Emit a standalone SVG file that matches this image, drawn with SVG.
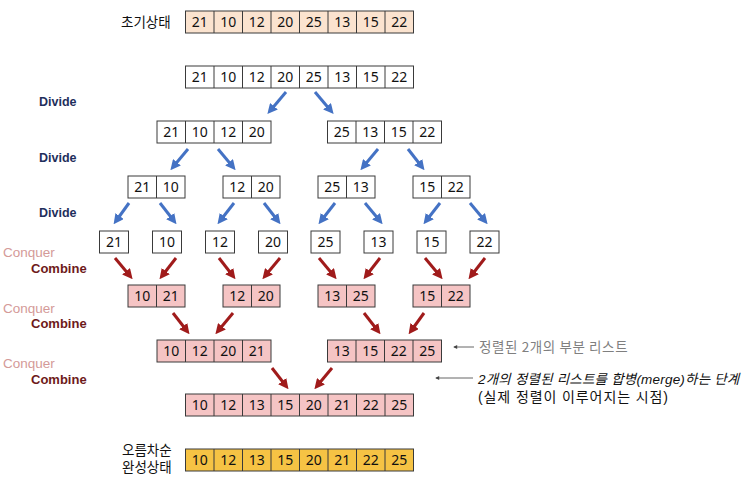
<svg xmlns="http://www.w3.org/2000/svg" width="750" height="498" viewBox="0 0 750 498">
<defs>
<style>
.c{stroke:#3a3a3a;stroke-width:1}
.w{fill:#ffffff}
.p{fill:#F5C4C4}
.o{fill:#FBE3CF}
.y{fill:#F6C344}
.n{font-family:"Noto Sans","Liberation Sans",sans-serif;font-size:14px;fill:#111;text-anchor:middle}
.k{font-family:"Noto Sans CJK KR","Noto Sans",sans-serif;font-size:13.5px;fill:#111}
.k2{font-family:"Liberation Sans","Noto Sans CJK KR",sans-serif;font-size:13.5px;fill:#111}
.dv{font-family:"Liberation Sans",Arial,sans-serif;font-size:12.5px;font-weight:bold;fill:#1F2F5C}
.cq{font-family:"Liberation Sans",Arial,sans-serif;font-size:13.5px;fill:#D49A98}
.cb{font-family:"Liberation Sans",Arial,sans-serif;font-size:13px;font-weight:bold;fill:#6E1A1A}
.ba{stroke:#4472C4;stroke-width:3;fill:none;marker-end:url(#mb)}
.ra{stroke:#A01B1B;stroke-width:3;fill:none;marker-end:url(#mr)}
.ga{stroke:#666;stroke-width:1;fill:none;marker-end:url(#mg)}
</style>
<marker id="mb" viewBox="0 0 10 10" refX="6" refY="5" markerWidth="3.4" markerHeight="3.4" orient="auto"><path d="M0,0L10,5L0,10z" fill="#4472C4"/></marker>
<marker id="mr" viewBox="0 0 10 10" refX="6" refY="5" markerWidth="3.4" markerHeight="3.4" orient="auto"><path d="M0,0L10,5L0,10z" fill="#A01B1B"/></marker>
<marker id="mg" viewBox="0 0 10 10" refX="8" refY="5" markerWidth="5" markerHeight="4" orient="auto"><path d="M0,0L10,5L0,10z" fill="#444"/></marker>
</defs>
<rect width="750" height="498" fill="#ffffff"/>

<g id="labels">
<text class="k" x="121" y="27">초기상태</text>
<text class="k2" x="122" y="455">오름차순</text>
<text class="k2" x="122" y="472">완성상태</text>
<text class="dv" x="39" y="106">Divide</text>
<text class="dv" x="39" y="162">Divide</text>
<text class="dv" x="39" y="217">Divide</text>
<text class="cq" x="3" y="257">Conquer</text>
<text class="cb" x="31" y="273">Combine</text>
<text class="cq" x="3" y="313">Conquer</text>
<text class="cb" x="31" y="328">Combine</text>
<text class="cq" x="3" y="368">Conquer</text>
<text class="cb" x="31" y="384">Combine</text>
</g>

<g id="initial">
<rect class="c o" x="185.5" y="11" width="228" height="22"/>
<path class="c" d="M214,11v22M242.5,11v22M271,11v22M299.5,11v22M328,11v22M356.5,11v22M385,11v22"/>
<text class="n" y="27"><tspan x="199.75">21</tspan><tspan x="228.25">10</tspan><tspan x="256.75">12</tspan><tspan x="285.25">20</tspan><tspan x="313.75">25</tspan><tspan x="342.25">13</tspan><tspan x="370.75">15</tspan><tspan x="399.25">22</tspan></text>
</g>

<g id="list8">
<rect class="c w" x="185.5" y="66" width="228" height="22"/>
<path class="c" d="M214,66v22M242.5,66v22M271,66v22M299.5,66v22M328,66v22M356.5,66v22M385,66v22"/>
<text class="n" y="82"><tspan x="199.75">21</tspan><tspan x="228.25">10</tspan><tspan x="256.75">12</tspan><tspan x="285.25">20</tspan><tspan x="313.75">25</tspan><tspan x="342.25">13</tspan><tspan x="370.75">15</tspan><tspan x="399.25">22</tspan></text>
</g>

<g id="list4a">
<rect class="c w" x="157" y="121" width="114" height="22"/>
<path class="c" d="M185.5,121v22M214,121v22M242.5,121v22"/>
<text class="n" y="137"><tspan x="171.25">21</tspan><tspan x="199.75">10</tspan><tspan x="228.25">12</tspan><tspan x="256.75">20</tspan></text>
</g>
<g id="list4b">
<rect class="c w" x="327.5" y="121" width="114" height="22"/>
<path class="c" d="M356,121v22M384.5,121v22M413,121v22"/>
<text class="n" y="137"><tspan x="341.75">25</tspan><tspan x="370.25">13</tspan><tspan x="398.75">15</tspan><tspan x="427.25">22</tspan></text>
</g>

<g id="pair1"><rect class="c w" x="128" y="176" width="57" height="22"/><path class="c" d="M156.5,176v22"/><text class="n" y="192"><tspan x="142.25">21</tspan><tspan x="170.75">10</tspan></text></g>
<g id="pair2"><rect class="c w" x="223" y="176" width="57" height="22"/><path class="c" d="M251.5,176v22"/><text class="n" y="192"><tspan x="237.25">12</tspan><tspan x="265.75">20</tspan></text></g>
<g id="pair3"><rect class="c w" x="318" y="176" width="57" height="22"/><path class="c" d="M346.5,176v22"/><text class="n" y="192"><tspan x="332.25">25</tspan><tspan x="360.75">13</tspan></text></g>
<g id="pair4"><rect class="c w" x="413" y="176" width="57" height="22"/><path class="c" d="M441.5,176v22"/><text class="n" y="192"><tspan x="427.25">15</tspan><tspan x="455.75">22</tspan></text></g>

<g id="s1"><rect class="c w" x="99.5" y="231" width="29" height="22"/><text class="n" x="114" y="247">21</text></g>
<g id="s2"><rect class="c w" x="152.5" y="231" width="29" height="22"/><text class="n" x="167" y="247">10</text></g>
<g id="s3"><rect class="c w" x="205.5" y="231" width="29" height="22"/><text class="n" x="220" y="247">12</text></g>
<g id="s4"><rect class="c w" x="258.5" y="231" width="29" height="22"/><text class="n" x="273" y="247">20</text></g>
<g id="s5"><rect class="c w" x="311" y="231" width="29" height="22"/><text class="n" x="325.5" y="247">25</text></g>
<g id="s6"><rect class="c w" x="364" y="231" width="29" height="22"/><text class="n" x="378.5" y="247">13</text></g>
<g id="s7"><rect class="c w" x="417" y="231" width="29" height="22"/><text class="n" x="431.5" y="247">15</text></g>
<g id="s8"><rect class="c w" x="470" y="231" width="29" height="22"/><text class="n" x="484.5" y="247">22</text></g>

<g id="m1"><rect class="c p" x="128" y="285" width="57" height="22"/><path class="c" d="M156.5,285v22"/><text class="n" y="301"><tspan x="142.25">10</tspan><tspan x="170.75">21</tspan></text></g>
<g id="m2"><rect class="c p" x="223" y="285" width="57" height="22"/><path class="c" d="M251.5,285v22"/><text class="n" y="301"><tspan x="237.25">12</tspan><tspan x="265.75">20</tspan></text></g>
<g id="m3"><rect class="c p" x="318" y="285" width="57" height="22"/><path class="c" d="M346.5,285v22"/><text class="n" y="301"><tspan x="332.25">13</tspan><tspan x="360.75">25</tspan></text></g>
<g id="m4"><rect class="c p" x="413" y="285" width="57" height="22"/><path class="c" d="M441.5,285v22"/><text class="n" y="301"><tspan x="427.25">15</tspan><tspan x="455.75">22</tspan></text></g>

<g id="m4a">
<rect class="c p" x="157" y="340" width="114" height="22"/>
<path class="c" d="M185.5,340v22M214,340v22M242.5,340v22"/>
<text class="n" y="356"><tspan x="171.25">10</tspan><tspan x="199.75">12</tspan><tspan x="228.25">20</tspan><tspan x="256.75">21</tspan></text>
</g>
<g id="m4b">
<rect class="c p" x="327.5" y="340" width="114" height="22"/>
<path class="c" d="M356,340v22M384.5,340v22M413,340v22"/>
<text class="n" y="356"><tspan x="341.75">13</tspan><tspan x="370.25">15</tspan><tspan x="398.75">22</tspan><tspan x="427.25">25</tspan></text>
</g>

<g id="merged">
<rect class="c p" x="185.5" y="394" width="228" height="22"/>
<path class="c" d="M214,394v22M242.5,394v22M271,394v22M299.5,394v22M328,394v22M356.5,394v22M385,394v22"/>
<text class="n" y="410"><tspan x="199.75">10</tspan><tspan x="228.25">12</tspan><tspan x="256.75">13</tspan><tspan x="285.25">15</tspan><tspan x="313.75">20</tspan><tspan x="342.25">21</tspan><tspan x="370.75">22</tspan><tspan x="399.25">25</tspan></text>
</g>

<g id="sorted">
<rect class="c y" x="185.5" y="449" width="228" height="22"/>
<path class="c" d="M214,449v22M242.5,449v22M271,449v22M299.5,449v22M328,449v22M356.5,449v22M385,449v22"/>
<text class="n" y="465"><tspan x="199.75">10</tspan><tspan x="228.25">12</tspan><tspan x="256.75">13</tspan><tspan x="285.25">15</tspan><tspan x="313.75">20</tspan><tspan x="342.25">21</tspan><tspan x="370.75">22</tspan><tspan x="399.25">25</tspan></text>
</g>

<g id="notes">
<text class="k" x="479" y="352" style="font-size:13.5px;letter-spacing:0.6px;fill:#7f7f7f">정렬된 2개의 부분 리스트</text>
<text class="k2" x="478" y="384" style="font-size:13.5px;letter-spacing:0.2px;font-style:italic">2개의 정렬된 리스트를 합병(merge)하는 단계</text>
<text class="k2" x="478" y="402" style="font-size:14px;letter-spacing:0.9px">(실제 정렬이 이루어지는 시점)</text>
</g>

<g id="connectors">
<path class="ba" d="M286,92L270,111"/>
<path class="ba" d="M315,92L331,111"/>
<path class="ba" d="M188,149L173,167"/>
<path class="ba" d="M218,149L233,167"/>
<path class="ba" d="M378,149L363,167"/>
<path class="ba" d="M408,149L422,167"/>
<path class="ba" d="M129,203L116,221"/>
<path class="ba" d="M160,203L174,221"/>
<path class="ba" d="M234,203L220,221"/>
<path class="ba" d="M264,203L278,221"/>
<path class="ba" d="M335,203L321,221"/>
<path class="ba" d="M365,203L380,221"/>
<path class="ba" d="M440,203L426,221"/>
<path class="ba" d="M470,203L485,221"/>
<path class="ra" d="M115,258L130,276"/>
<path class="ra" d="M176,258L162,276"/>
<path class="ra" d="M219,258L233,276"/>
<path class="ra" d="M280,258L265,276"/>
<path class="ra" d="M319,258L334,276"/>
<path class="ra" d="M380,258L366,276"/>
<path class="ra" d="M425,258L440,276"/>
<path class="ra" d="M485,258L471,276"/>
<path class="ra" d="M173,313L187,331"/>
<path class="ra" d="M233,313L218,331"/>
<path class="ra" d="M364,313L378,331"/>
<path class="ra" d="M424,313L411,331"/>
<path class="ra" d="M272,368L286,386"/>
<path class="ra" d="M332,368L317,386"/>
<path class="ga" d="M474,347L454,347"/>
<path class="ga" d="M473,378L436,378"/>
</g>
</svg>
